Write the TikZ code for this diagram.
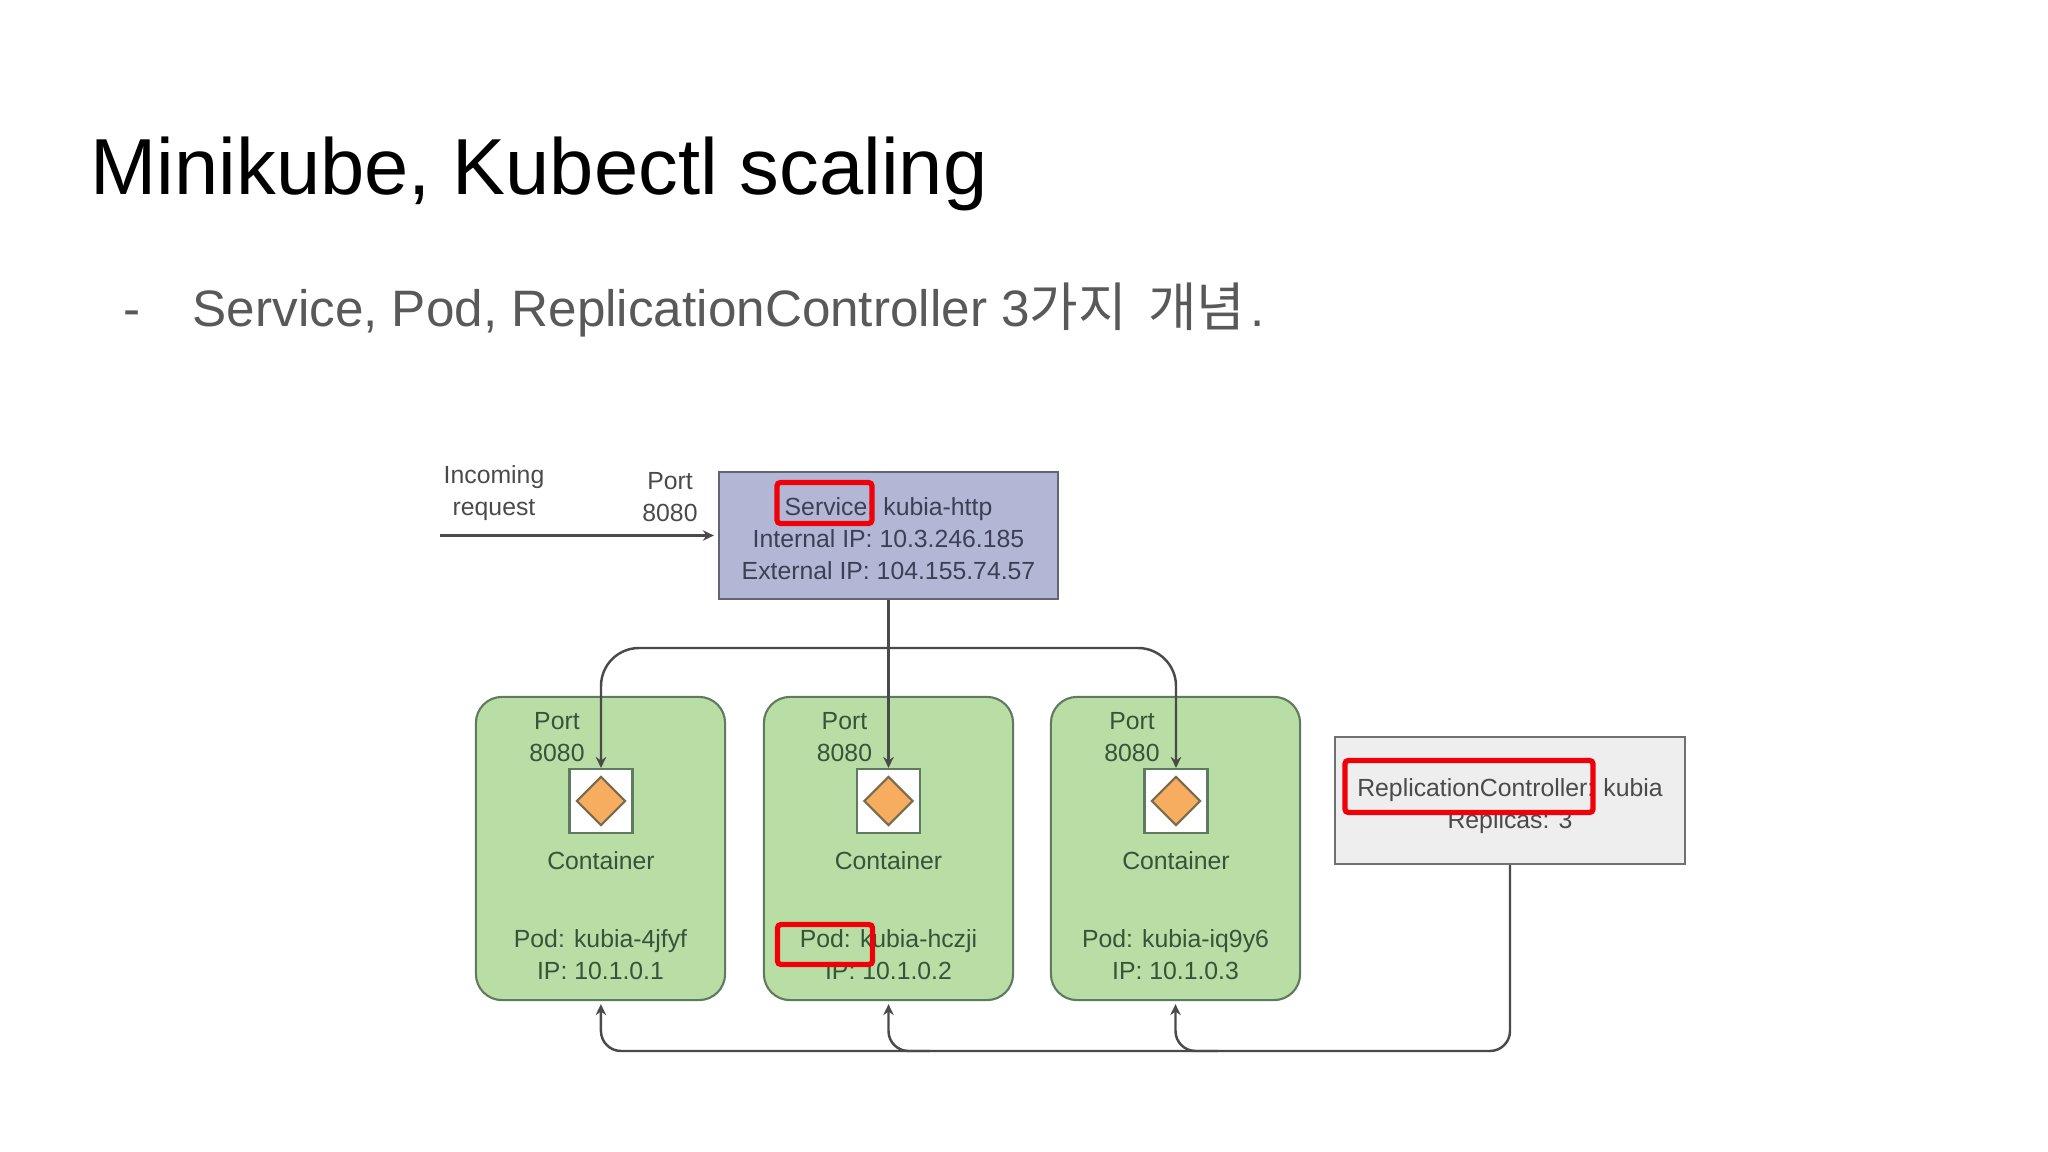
\documentclass[tikz,border=0pt]{standalone}
\usepackage{fontspec}
\usepackage{xcolor}
\usetikzlibrary{shapes.geometric, arrows.meta, positioning}
\setmainfont{Liberation Sans}
\newfontfamily\cjkfont[Scale=1.03]{Noto Sans CJK KR}
\definecolor{titleblack}{HTML}{000000}
\definecolor{bulletgray}{HTML}{595959}
\definecolor{servicefill}{HTML}{B2B7D6}
\definecolor{serviceedge}{HTML}{63656F}
\definecolor{servicetext}{HTML}{3C3F55}
\definecolor{podfill}{HTML}{B8DEA5}
\definecolor{podedge}{HTML}{5F7A5F}
\definecolor{podtext}{HTML}{33553A}
\definecolor{rcfill}{HTML}{EEEEEE}
\definecolor{rcedge}{HTML}{707070}
\definecolor{rctext}{HTML}{4A4A4A}
\definecolor{portorange}{HTML}{F6AD60}
\definecolor{portedge}{HTML}{7C6A4C}
\definecolor{wiregray}{HTML}{4A4A4A}
\definecolor{markred}{HTML}{F00008}

\begin{document}
\begin{tikzpicture}[
    x=0.01cm,
    y=-0.01cm,
    every node/.style={font=\fontsize{7.05}{9.1}\selectfont, align=center, inner sep=0pt},
    servicebox/.style={
        rectangle,
        draw=serviceedge,
        fill=servicefill,
        line width=0.6pt,
        minimum width=3.39cm,
        minimum height=1.27cm
    },
    podbox/.style={
        rectangle,
        rounded corners=0.26cm,
        draw=podedge,
        fill=podfill,
        line width=0.6pt,
        minimum width=2.49cm,
        minimum height=3.03cm
    },
    rcbox/.style={
        rectangle,
        draw=rcedge,
        fill=rcfill,
        line width=0.6pt,
        minimum width=3.5cm,
        minimum height=1.27cm
    },
    containerbox/.style={
        rectangle,
        draw=podedge,
        fill=white,
        line width=0.6pt,
        minimum width=0.63cm,
        minimum height=0.64cm
    },
    portmark/.style={
        diamond,
        draw=portedge,
        fill=portorange,
        line width=0.6pt,
        minimum width=0.49cm,
        minimum height=0.49cm
    },
    podlabel/.style={text=podtext},
    servicelabel/.style={text=servicetext},
    outerlabel/.style={text=rctext},
    wire/.style={
        line width=0.7pt,
        draw=wiregray
    },
    wirearrow/.style={
        wire,
        -{Stealth[length=1.1mm, width=1.05mm]}
    },
    markbox/.style={
        rectangle,
        rounded corners=1pt,
        draw=markred,
        line width=1.5pt
    }
]
\useasboundingbox (0,0) rectangle (2048,1152);

% Heading
\node[anchor=base west, font=\fontsize{22.6}{27}\selectfont, text=titleblack] (heading) at (90,195) {Minikube, Kubectl scaling};
\node[anchor=base west, font=\fontsize{14.57}{18}\selectfont, text=bulletgray] (dash) at (123,327) {-};
\node[anchor=base west, font=\fontsize{14.57}{18}\selectfont, text=bulletgray] (subline) at (192,327) {Service, Pod, ReplicationController 3{\cjkfont 가지\hspace{2.6pt} 개념}\hspace{1.5pt}.};

% Row 1: Service
\node[servicebox] (service) at (888.5,535.5) {};
\node[servicelabel] (servicetitle) at (888.5,538.5) {Service: kubia-http\\Internal IP: 10.3.246.185\\External IP: 104.155.74.57};
\node[outerlabel] (port0) at (670,497) {Port\\8080};
\node[outerlabel] (incomingtext) at (494,493.5) {Incoming\\request};
\coordinate (incoming) at (440,535.5);

% Row 2: Pods
\node[podbox] (pod1) at (600.5,848.5) {};
\node[podbox] (pod2) at (888.5,848.5) {};
\node[podbox] (pod3) at (1175.5,848.5) {};

% Containers
\node[containerbox] (cont1) at (601,801) {};
\node[containerbox] (cont2) at (888.5,801) {};
\node[containerbox] (cont3) at (1176,801) {};
\node[portmark] (mark1) at (cont1) {};
\node[portmark] (mark2) at (cont2) {};
\node[portmark] (mark3) at (cont3) {};

% Labels
\node[podlabel, above=0.05cm of cont1, xshift=-0.44cm] (port1) {Port\\8080};
\node[podlabel, above=0.05cm of cont2, xshift=-0.44cm] (port2) {Port\\8080};
\node[podlabel, above=0.05cm of cont3, xshift=-0.44cm] (port3) {Port\\8080};
\node[podlabel, below=0.165cm of cont1] (name1) {Container};
\node[podlabel, below=0.165cm of cont2] (name2) {Container};
\node[podlabel, below=0.165cm of cont3] (name3) {Container};
\node[podlabel, above=0.205cm of pod1.south] (info1) {Pod: kubia-4jfyf\\IP: 10.1.0.1};
\node[podlabel, above=0.205cm of pod2.south] (info2) {Pod: kubia-hczji\\IP: 10.1.0.2};
\node[podlabel, above=0.205cm of pod3.south] (info3) {Pod: kubia-iq9y6\\IP: 10.1.0.3};

% ReplicationController
\node[rcbox] (rc) at (1510,800.5) {};
\node[outerlabel] (rctitle) at (1510,806) {ReplicationController: kubia\\Replicas: 3};

% Arrows - from the left and from the service
\coordinate (fanout) at (888.5,648);
\coordinate (ctrlbus) at (601,1051);
\coordinate (tap2) at (930,1051);
\coordinate (tap3) at (1218,1051);
\draw[wirearrow, shorten >=0.04cm] (incoming) -- (service);
\draw[wirearrow] (service) -- (cont2);
\draw[wirearrow, rounded corners=0.38cm] (fanout) -| (cont1);
\draw[wirearrow, rounded corners=0.38cm] (fanout) -| (cont3);

% Arrows - from the controller
\draw[wirearrow, rounded corners=0.2cm, shorten >=0.03cm] (rc) |- (ctrlbus) -- (pod1);
\draw[wirearrow, rounded corners=0.2cm, shorten >=0.03cm] (tap2) -| (pod2);
\draw[wirearrow, rounded corners=0.2cm, shorten >=0.03cm] (tap3) -| (pod3);

% Red marks
\node[markbox, minimum width=0.95cm, minimum height=0.41cm] (markservice) at (824.5,503) {};
\node[markbox, minimum width=0.95cm, minimum height=0.40cm] (markpod) at (825,944.5) {};
\node[markbox, minimum width=2.48cm, minimum height=0.52cm] (markrc) at (1469,786.5) {};

\end{tikzpicture}
\end{document}
